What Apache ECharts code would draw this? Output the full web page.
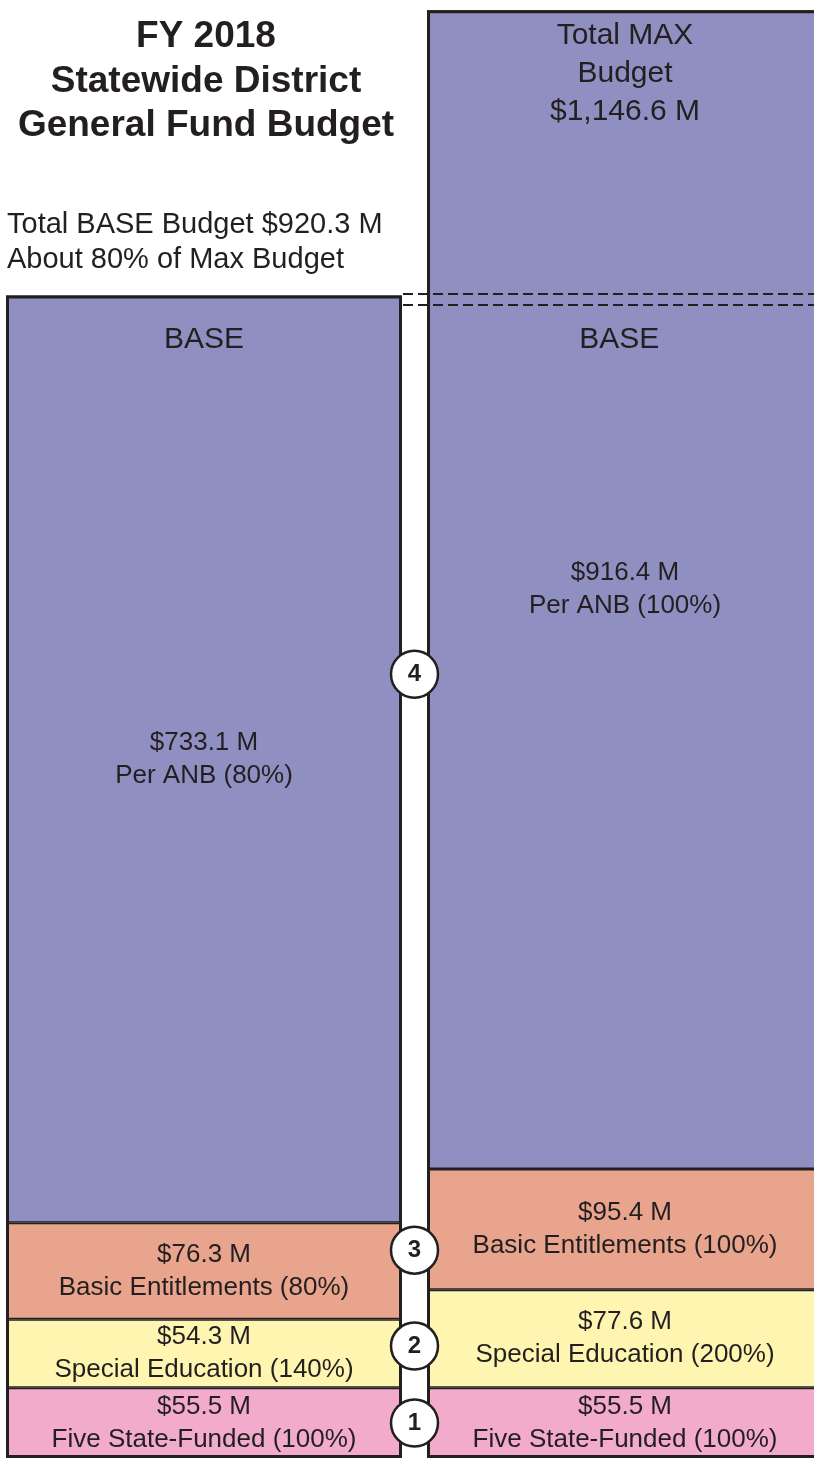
<!DOCTYPE html>
<html>
<head>
<meta charset="utf-8">
<script src="https://cdn.jsdelivr.net/npm/echarts@6/dist/echarts.min.js"></script>
<style>
  html, body { margin: 0; padding: 0; background: #ffffff; }
  #chart { width: 814px; height: 1458px; }
</style>
</head>
<body>
<div id="chart"></div>
<script>
// ---- data ----
const columns = ['BASE', 'MAX'];
const segmentNames = ['Five State-Funded', 'Special Education', 'Basic Entitlements', 'Per ANB'];
const fiveStateFunded = [55.5, 55.5];
const fiveStatePct = [100, 100];
const specialEducation = [54.3, 77.6];
const specialEducationPct = [140, 200];
const basicEntitlements = [76.3, 95.4];
const basicEntitlementsPct = [80, 100];
const perANB = [733.1, 916.4];
const perANBPct = [80, 100];
const budgetTotals = [920.3, 1146.6];
const markerNumbers = ['1', '2', '3', '4'];

// ---- styling / layout ----
const FONT = '"Liberation Sans", Arial, Helvetica, sans-serif';
const INK = '#231f20';
const colors = ['#f3abcb', '#fef5b0', '#e8a48c', '#8f8fc1'];
const GRID_LEFT = -6.5, BAND_PX = 421, BAR_W = 396;

const segValues = [fiveStateFunded, specialEducation, basicEntitlements, perANB];
const segPcts = [fiveStatePct, specialEducationPct, basicEntitlementsPct, perANBPct];
const columnSums = columns.map((c, ci) => segValues.reduce((s, vals) => s + vals[ci], 0));

function money(v) {
  return '$' + v.toLocaleString('en-US', { minimumFractionDigits: 1, maximumFractionDigits: 1 }) + ' M';
}

const stackSeries = segValues.map((vals, si) => ({
  name: segmentNames[si],
  type: 'bar',
  stack: 'budget',
  barWidth: BAR_W,
  barGap: '-100%',
  data: vals,
  itemStyle: { color: colors[si], borderColor: INK, borderWidth: 1.5 },
  emphasis: { disabled: true },
  label: {
    show: true,
    position: 'inside',
    color: INK,
    fontFamily: FONT,
    fontSize: 26,
    lineHeight: 33,
    formatter: p => money(p.value) + '\n' + segmentNames[si] + ' (' + segPcts[si][p.dataIndex] + '%)'
  },
  z: 2
}));

// outline of each whole column (same extent as the stack)
const outlineSeries = {
  name: 'Outline',
  type: 'bar',
  barWidth: BAR_W,
  barGap: '-100%',
  silent: true,
  emphasis: { disabled: true },
  itemStyle: { color: 'rgba(0,0,0,0)', borderColor: INK, borderWidth: 3 },
  z: 3,
  data: columnSums
};

// transparent total bars carrying the top labels
const totalSeries = {
  name: 'Total',
  type: 'bar',
  barWidth: BAR_W,
  barGap: '-100%',
  silent: true,
  emphasis: { disabled: true },
  itemStyle: { color: 'rgba(0,0,0,0)', borderWidth: 0 },
  z: 4,
  data: [
    { value: budgetTotals[0], label: { formatter: 'BASE', distance: 29, lineHeight: 34 } },
    { value: budgetTotals[1], label: { formatter: 'Total MAX\nBudget\n' + money(budgetTotals[1]), distance: 9, lineHeight: 38 } }
  ],
  label: { show: true, position: 'insideTop', color: INK, fontFamily: FONT, fontSize: 30 }
};

// numbered markers between the two columns: mean of segment midpoints of both columns
const markerData = segValues.map((vals, si) => {
  const mids = vals.map((v, ci) => {
    let base = 0;
    for (let k = 0; k < si; k++) base += segValues[k][ci];
    return base + v / 2;
  });
  return [1, (mids[0] + mids[1]) / 2, markerNumbers[si]];
});

const markerSeries = {
  name: 'Markers',
  type: 'scatter',
  xAxisIndex: 1,
  yAxisIndex: 0,
  symbol: 'circle',
  symbolSize: 47,
  silent: true,
  z: 5,
  itemStyle: { color: '#ffffff', borderColor: INK, borderWidth: 2.5, opacity: 1 },
  label: {
    show: true, position: 'inside', color: INK, fontFamily: FONT,
    fontSize: 24, fontWeight: 'bold', formatter: p => p.value[2]
  },
  data: markerData,
  markLine: {
    silent: true,
    symbol: 'none',
    lineStyle: {
      type: [10, 5], width: 2, color: INK,
      shadowColor: INK, shadowOffsetY: 11, shadowBlur: 0
    },
    label: {
      show: true, position: 'insideMiddleBottom', distance: 31,
      formatter: 'BASE', color: INK, fontFamily: FONT, fontSize: 30
    },
    data: [[
      { coord: [(403 - GRID_LEFT) / BAND_PX, budgetTotals[0]] },
      { coord: [2, budgetTotals[0]] }
    ]]
  }
};

const chart = echarts.init(document.getElementById('chart'), null, { renderer: 'canvas' });
chart.setOption({
  backgroundColor: '#ffffff',
  animation: false,
  title: [
    {
      text: 'FY 2018\nStatewide District\nGeneral Fund Budget',
      left: 206, top: 15, textAlign: 'center', padding: 0,
      textStyle: { fontFamily: FONT, fontSize: 37, fontWeight: 'bold', lineHeight: 44.5, color: INK }
    },
    {
      text: 'Total BASE Budget ' + money(budgetTotals[0]) + '\nAbout ' +
            Math.round(budgetTotals[0] / budgetTotals[1] * 100) + '% of Max Budget',
      left: 7, top: 207, padding: 0,
      textStyle: { fontFamily: FONT, fontSize: 29, fontWeight: 'normal', lineHeight: 35, color: INK }
    }
  ],
  grid: {
    left: GRID_LEFT, right: 814 - (GRID_LEFT + 2 * BAND_PX), top: 8, bottom: 0,
    containLabel: false, outerBoundsMode: 'none'
  },
  xAxis: [
    { type: 'category', data: columns, show: false },
    { type: 'value', min: 0, max: 2, show: false }
  ],
  yAxis: { type: 'value', min: 0, max: 'dataMax', show: false, splitLine: { show: false } },
  series: [...stackSeries, outlineSeries, totalSeries, markerSeries]
});
</script>
</body>
</html>
